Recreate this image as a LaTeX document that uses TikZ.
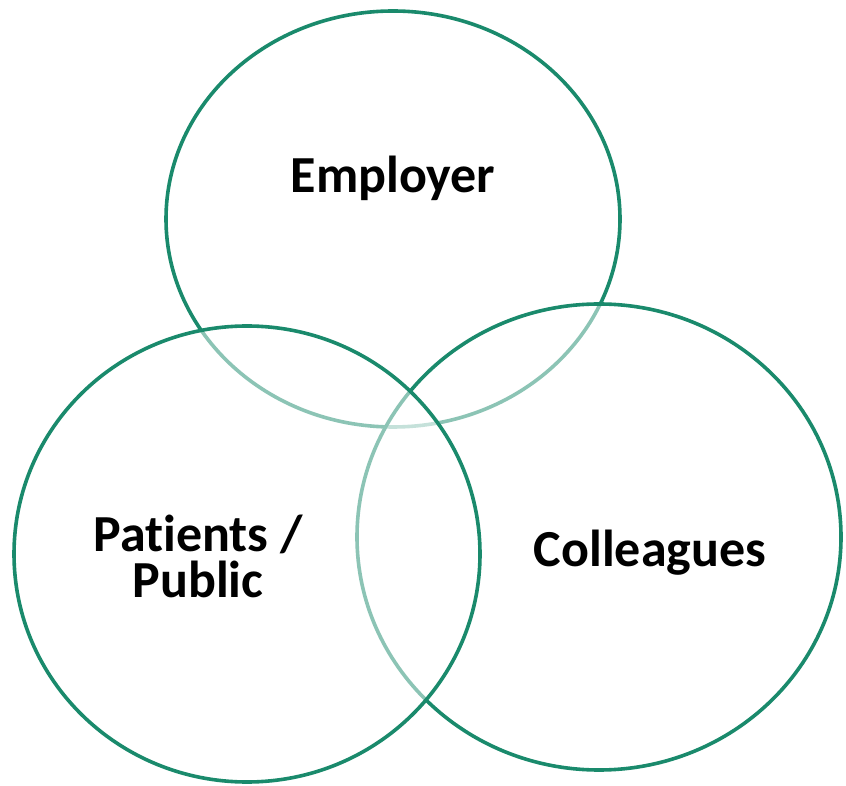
\documentclass[tikz,border=0pt]{standalone}
\usepackage{fontspec}
\setmainfont{Carlito}[Ligatures={NoCommon}]
\usepackage{xcolor}
\usetikzlibrary{positioning}
\usetikzlibrary{shapes.geometric}
\definecolor{ringgreen}{RGB}{26,138,108}

\begin{document}
\begin{tikzpicture}[x=1pt,y=1pt]
			\tikzstyle{RingStyle}  = [shape = ellipse, draw = ringgreen, line width = 3.6pt, fill = white, fill opacity = 0.5, inner sep = 0pt]
			\tikzstyle{LabelStyle} = [font = \fontsize{52}{46}\selectfont\bfseries, align = center, inner sep = 0pt]
			\useasboundingbox (0,0) rectangle (846,785);
			% rings, back to front
			\node[RingStyle, minimum width = 454, minimum height = 416] (employer)   at (393,566) {};
			\node[RingStyle, minimum width = 484, minimum height = 466] (colleagues) at (599,248) {};
			\node[RingStyle, minimum width = 466, minimum height = 456] (patients)   at (247,231) {};
			% labels
			\node[LabelStyle, anchor = base] (employerText)   at (393,592) {Employer};
			\node[LabelStyle, anchor = base] (colleaguesText) at (650,218) {Colleagues};
			\node[LabelStyle] (patientsText) at (198,229) {Patients /\\Public};
		\end{tikzpicture}
\end{document}
